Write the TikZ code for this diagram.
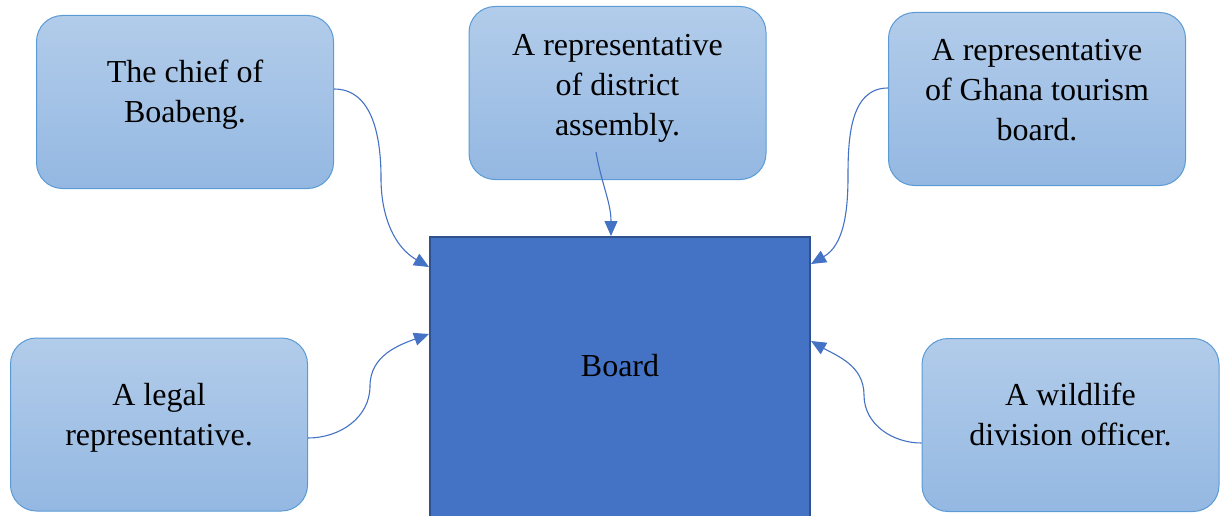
\documentclass[tikz,border=0pt]{standalone}
\usepackage{fontspec}
\setmainfont{Liberation Serif}
\usetikzlibrary{arrows.meta,calc}
\definecolor{boxtop}{RGB}{178,204,234}
\definecolor{boxbot}{RGB}{148,184,226}
\definecolor{boxline}{RGB}{91,155,213}
\definecolor{boardfill}{RGB}{68,114,196}
\definecolor{boardline}{RGB}{47,82,143}
\definecolor{linkcol}{RGB}{68,114,196}

\begin{document}
\begin{tikzpicture}[x=1pt,y=-1pt,
  member/.style={draw=boxline, line width=1pt, rounded corners=26pt,
    top color=boxtop, bottom color=boxbot,
    minimum width=297pt, minimum height=173pt, inner sep=0pt},
  caption/.style={font=\fontsize{32}{40}\selectfont, align=center, inner sep=0pt},
  boardbox/.style={draw=boardline, line width=2pt, fill=boardfill,
    minimum width=380pt, minimum height=282pt, inner sep=0pt},
  link/.style={draw=linkcol, line width=1.1pt, -{Triangle[length=15pt,width=13pt]}}]
\useasboundingbox (0,0) rectangle (1222,516);

% central board
\node[boardbox] (board) at (620,378) {};
\node[caption] (boardtext) at (620,366) {Board};

% members
\node[member] (chief) at (185,102) {};
\node[caption] (chieftext) at ([yshift=7pt]chief.center) {The chief of\\Boabeng.};

\node[member] (district) at (617.5,93) {};
\node[caption] (districttext) at ([yshift=5pt]district.center) {A representative\\of district\\assembly.};

\node[member] (tourism) at (1037,99) {};
\node[caption] (tourismtext) at ([yshift=9pt]tourism.center) {A representative\\of Ghana tourism\\board.};

\node[member] (legal) at (159,424.5) {};
\node[caption] (legaltext) at ([yshift=7pt]legal.center) {A legal\\representative.};

\node[member] (wildlife) at (1070.5,425) {};
\node[caption] (wildlifetext) at ([yshift=11pt]wildlife.center) {A wildlife\\division officer.};

% bends of the curved connectors
\coordinate (chiefbend) at (381,178);
\coordinate (tourismbend) at (848,176);
\coordinate (legalbend) at (370,386);
\coordinate (wildlifebend) at (864,395);
\coordinate (districttail) at (596,152);

% connectors
\draw[link] ([yshift=13pt]chief.east) to[out=0,in=90] (chiefbend)
  to[out=-90,in=150] ([yshift=-31pt]board.north west);
\draw[link] (districttail) to[out=-80,in=90] ([xshift=-9pt]board.north);
\draw[link] ([yshift=11pt]tourism.west) to[out=180,in=90] (tourismbend)
  to[out=-90,in=30] ([yshift=-28pt]board.north east);
\draw[link] ([yshift=-13.5pt]legal.east) to[out=0,in=-90] (legalbend)
  to[out=90,in=200] ([yshift=-98pt]board.north west);
\draw[link] ([yshift=-18pt]wildlife.west) to[out=180,in=-90] (wildlifebend)
  to[out=90,in=-30] ([yshift=-105pt]board.north east);
\end{tikzpicture}
\end{document}
